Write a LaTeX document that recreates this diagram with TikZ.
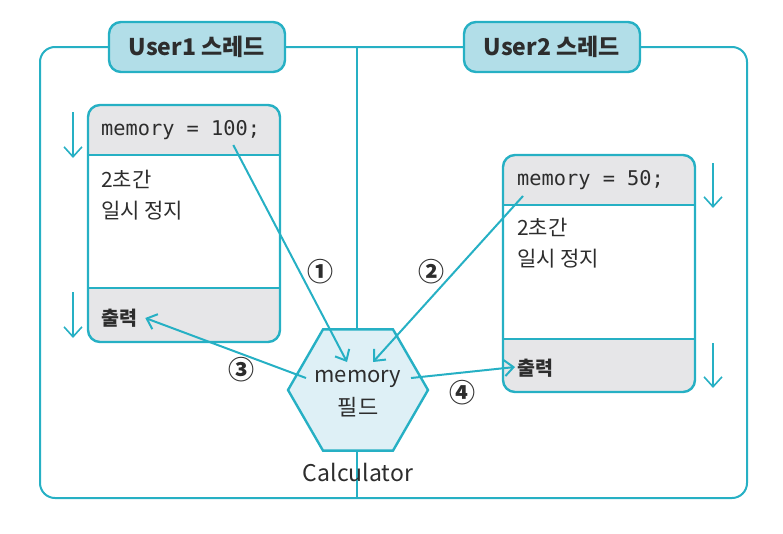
\documentclass[tikz,border=0pt]{standalone}
\usepackage{fontspec}
\setmainfont{Noto Sans CJK KR}
\newfontfamily\codefont{DejaVu Sans Mono}
\usetikzlibrary{shapes.geometric,arrows.meta}

\definecolor{threadline}{RGB}{38,176,196}
\definecolor{labelblue}{RGB}{178,222,232}
\definecolor{fieldblue}{RGB}{222,240,246}
\definecolor{boxgray}{RGB}{230,230,232}
\definecolor{textdark}{RGB}{45,45,45}

\tikzset{
    frameline/.style={draw=threadline, line width=2pt},
    boxline/.style={draw=threadline, line width=2.4pt},
    threadlabel/.style={draw=threadline, fill=labelblue, line width=2.4pt, rounded corners=12pt,
        minimum width=176pt, minimum height=50pt, text=textdark, font=\fontsize{23}{26}\selectfont\bfseries},
    codetext/.style={inner sep=0pt, text=textdark, font=\codefont\fontsize{20.3}{24}\selectfont},
    plaintext/.style={inner sep=0pt, text=textdark, align=left, font=\fontsize{21}{31}\selectfont},
    outtext/.style={inner sep=0pt, text=textdark, font=\fontsize{19.5}{24}\selectfont\bfseries},
    stepnum/.style={inner sep=0pt, text=textdark, font=\fontsize{26}{28}\selectfont\bfseries},
    field/.style={regular polygon, regular polygon sides=6, minimum size=140pt, inner sep=0pt,
        draw=threadline, fill=fieldblue, line width=2.4pt},
    flow/.style={draw=threadline, line width=2pt, -{Straight Barb[length=9pt, width=16pt]}},
    steparrow/.style={draw=threadline, line width=1.6pt, -{Straight Barb[length=10pt, width=18pt]}}
}

\begin{document}
\begin{tikzpicture}[x=1pt, y=-1pt]
    \useasboundingbox (0,0) rectangle (783,533);
    \draw[frameline, rounded corners=15pt] (40,47) rectangle (747,498);
    \draw[frameline] (357,47) -- (357,498);
    \node[threadlabel] (user1) at (197,47) {User1 스레드};
    \node[threadlabel] (user2) at (552,47) {User2 스레드};

    \begin{scope}
        \clip[rounded corners=12pt] (88,105) rectangle (280,342);
        \fill[boxgray] (88,105) rectangle (280,155) (88,288) rectangle (280,342);
    \end{scope}
    \draw[boxline, rounded corners=12pt] (88,105) rectangle (280,342);
    \draw[boxline] (88,155) -- (280,155) (88,288) -- (280,288);
    \begin{scope}
        \clip[rounded corners=12pt] (503,155) rectangle (695,392);
        \fill[boxgray] (503,155) rectangle (695,205) (503,339) rectangle (695,392);
    \end{scope}
    \draw[boxline, rounded corners=12pt] (503,155) rectangle (695,392);
    \draw[boxline] (503,205) -- (695,205) (503,339) -- (695,339);

    \node[codetext, anchor=west] (code1) at (101,130) {memory = 100;};
    \node[plaintext, anchor=north west] (wait1) at (101,170) {2초간\\일시 정지};
    \node[outtext, anchor=west] (out1) at (101,318) {출력};
    \node[codetext, anchor=west] (code2) at (517,180) {memory = 50;};
    \node[plaintext, anchor=north west] (wait2) at (517,218) {2초간\\일시 정지};
    \node[outtext, anchor=west] (out2) at (517,368) {출력};

    \draw[steparrow] (73,112) -- (73,158);
    \draw[steparrow] (73,292) -- (73,338);
    \draw[steparrow] (713,163) -- (713,208);
    \draw[steparrow] (713,343) -- (713,388);

    \node[field] (calc) at (358,390) {};
    \node[align=center, inner sep=0pt, text=textdark, font=\fontsize{22}{33}\selectfont] (fieldname) at (358,394) {memory\\필드};
    \node[inner sep=0pt, text=textdark, font=\fontsize{23}{26}\selectfont] (calcname) at (358,472) {Calculator};

    \draw[flow] ([shift={(-27,15)}]code1.east) -- ([shift={(-11,-28)}]calc.center);
    \draw[flow] ([shift={(6,16)}]code2.west) -- ([shift={(15,-28)}]calc.center);
    \draw[flow] ([shift={(-52,-12)}]calc.center) -- ([shift={(8,0)}]out1.east);
    \draw[flow] ([shift={(53,-12)}]calc.center) -- ([shift={(-2,-1)}]out2.west);

    \node[stepnum] (n1) at (320,272) {①};
    \node[stepnum] (n2) at (431,272) {②};
    \node[stepnum] (n3) at (241,370) {③};
    \node[stepnum] (n4) at (462,393) {④};
\end{tikzpicture}
\end{document}
